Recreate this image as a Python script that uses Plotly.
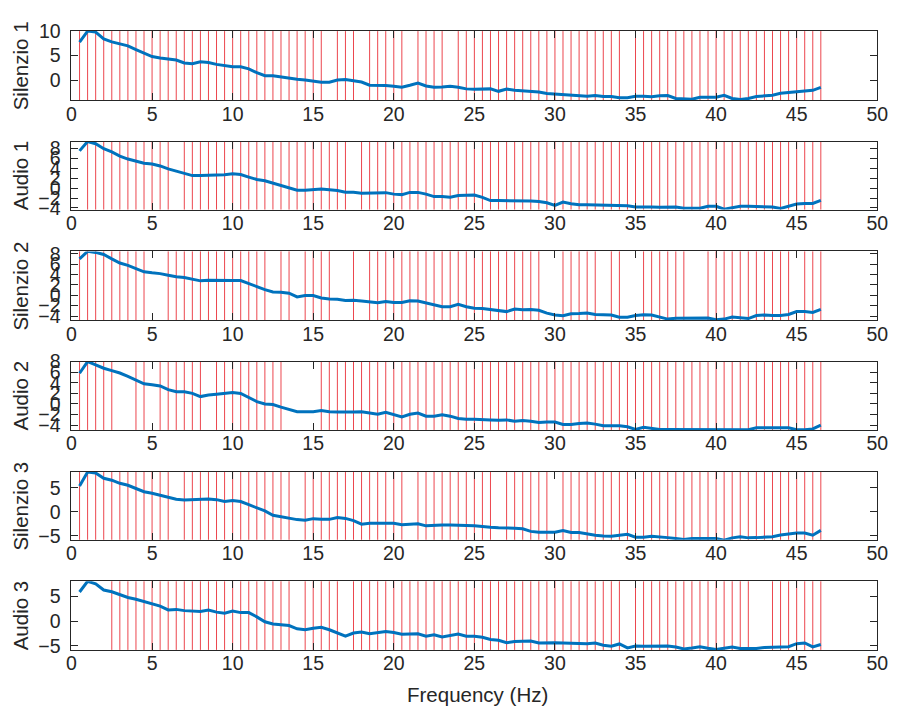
import plotly.graph_objects as go

# ---------------- data ----------------
FREQ = [0.5, 1.0, 1.5, 2.0, 2.5, 3.0, 3.5, 4.0, 4.5, 5.0,
        5.5, 6.0, 6.5, 7.0, 7.5, 8.0, 8.5, 9.0, 9.5, 10.0,
        10.5, 11.0, 11.5, 12.0, 12.5, 13.0, 13.5, 14.0, 14.5, 15.0,
        15.5, 16.0, 16.5, 17.0, 17.5, 18.0, 18.5, 19.0, 19.5, 20.0,
        20.5, 21.0, 21.5, 22.0, 22.5, 23.0, 23.5, 24.0, 24.5, 25.0,
        25.5, 26.0, 26.5, 27.0, 27.5, 28.0, 28.5, 29.0, 29.5, 30.0,
        30.5, 31.0, 31.5, 32.0, 32.5, 33.0, 33.5, 34.0, 34.5, 35.0,
        35.5, 36.0, 36.5, 37.0, 37.5, 38.0, 38.5, 39.0, 39.5, 40.0,
        40.5, 41.0, 41.5, 42.0, 42.5, 43.0, 43.5, 44.0, 44.5, 45.0,
        45.5, 46.0, 46.5]

LABELS = ["Silenzio 1", "Audio 1", "Silenzio 2", "Audio 2", "Silenzio 3", "Audio 3"]

silenzio1 = [7.75, 10.0, 9.8, 8.4, 7.8, 7.4, 7.0, 6.2, 5.5, 4.8,
             4.5, 4.3, 4.1, 3.5, 3.35, 3.75, 3.6, 3.2, 3.0, 2.7,
             2.7, 2.3, 1.5, 0.9, 0.9, 0.65, 0.3, 0.15, 0.0, -0.2,
             -0.45, -0.45, 0.0, 0.1, -0.1, -0.4, -1.05, -1.0, -1.1, -1.25,
             -1.45, -1.05, -0.6, -1.2, -1.45, -1.4, -1.25, -1.45, -1.8, -1.9,
             -1.85, -1.8, -2.3, -1.85, -2.1, -2.2, -2.25, -2.45, -2.75, -2.85,
             -2.95, -3.1, -3.3, -3.3, -3.15, -3.35, -3.35, -3.6, -3.6, -3.3,
             -3.3, -3.4, -3.2, -3.15, -3.75, -3.9, -3.9, -3.5, -3.5, -3.5,
             -3.1, -3.75, -3.95, -3.75, -3.35, -3.2, -3.1, -2.7, -2.55, -2.45,
             -2.35, -2.1, -1.5]

audio1 = [7.55, 9.45, 9.0, 8.0, 7.35, 6.5, 5.9, 5.4, 5.05, 4.9,
          4.5, 3.9, 3.4, 2.95, 2.55, 2.55, 2.55, 2.7, 2.7, 2.9,
          2.75, 2.25, 1.75, 1.5, 1.0, 0.6, 0.05, -0.4, -0.4, -0.3,
          -0.15, -0.3, -0.45, -0.8, -0.8, -1.0, -1.0, -1.0, -0.9, -1.2,
          -1.3, -0.85, -0.85, -1.2, -1.7, -1.7, -1.85, -1.5, -1.5, -1.4,
          -1.85, -2.5, -2.5, -2.5, -2.55, -2.6, -2.6, -2.7, -2.95, -3.5,
          -2.8, -3.15, -3.35, -3.35, -3.4, -3.55, -3.55, -3.5, -3.55, -3.8,
          -3.75, -3.8, -3.85, -3.85, -3.8, -4.05, -4.05, -4.05, -3.65, -3.65,
          -4.25, -3.9, -3.65, -3.65, -3.65, -3.65, -3.8, -4.1, -3.6, -3.2,
          -3.1, -3.1, -2.45]

silenzio2 = [7.05, 8.5, 8.3, 7.9, 7.05, 6.25, 5.8, 5.15, 4.55, 4.35,
             4.2, 3.9, 3.6, 3.45, 3.15, 2.8, 2.9, 2.85, 2.85, 2.85,
             2.85, 2.35, 1.7, 1.1, 0.65, 0.6, 0.4, -0.3, -0.05, -0.05,
             -0.5, -0.7, -0.75, -1.0, -0.95, -1.1, -1.25, -1.45, -1.2, -1.4,
             -1.4, -1.05, -1.1, -1.45, -1.75, -2.2, -2.2, -1.75, -2.2, -2.5,
             -2.55, -2.75, -3.0, -3.15, -2.65, -2.8, -2.75, -2.9, -3.45, -3.8,
             -3.95, -3.55, -3.5, -3.4, -3.7, -3.8, -3.8, -4.25, -4.25, -3.9,
             -3.75, -3.8, -4.15, -4.6, -4.45, -4.45, -4.4, -4.45, -4.4, -4.7,
             -4.6, -4.2, -4.35, -4.5, -3.9, -3.8, -3.9, -3.9, -3.7, -3.15,
             -3.15, -3.3, -2.7]

audio2 = [5.8, 8.0, 7.4, 6.75, 6.3, 5.85, 5.2, 4.45, 3.8, 3.65,
          3.4, 2.7, 2.3, 2.3, 2.0, 1.4, 1.7, 1.85, 2.0, 2.15,
          2.0, 1.25, 0.45, 0.0, -0.1, -0.6, -1.1, -1.45, -1.45, -1.45,
          -1.25, -1.45, -1.5, -1.55, -1.5, -1.45, -1.7, -1.95, -1.55, -2.05,
          -2.45, -1.95, -1.7, -2.3, -2.3, -2.05, -2.3, -2.75, -2.9, -2.9,
          -2.9, -3.0, -3.05, -3.0, -3.25, -3.1, -3.25, -3.5, -3.4, -3.4,
          -3.85, -3.85, -3.7, -3.6, -3.8, -4.1, -4.1, -4.1, -4.3, -4.8,
          -4.4, -4.6, -4.8, -4.8, -4.8, -4.8, -4.85, -4.85, -4.8, -4.8,
          -4.8, -4.85, -4.9, -4.85, -4.5, -4.5, -4.45, -4.5, -4.5, -4.85,
          -4.85, -4.7, -4.0]

silenzio3 = [5.4, 8.3, 8.1, 7.0, 6.6, 5.95, 5.55, 4.85, 4.2, 3.9,
             3.5, 3.05, 2.65, 2.5, 2.55, 2.75, 2.7, 2.55, 2.15, 2.35,
             2.15, 1.5, 0.9, 0.2, -0.7, -1.0, -1.35, -1.6, -1.75, -1.4,
             -1.55, -1.55, -1.15, -1.35, -1.8, -2.55, -2.35, -2.35, -2.3, -2.35,
             -2.65, -2.55, -2.45, -2.9, -2.75, -2.7, -2.7, -2.7, -2.85, -2.9,
             -3.1, -3.2, -3.3, -3.3, -3.4, -3.5, -4.05, -4.25, -4.25, -4.25,
             -3.9, -4.3, -4.3, -4.6, -4.85, -5.0, -5.05, -4.85, -4.65, -5.25,
             -5.25, -5.05, -5.15, -5.35, -5.55, -5.75, -5.55, -5.5, -5.5, -5.55,
             -5.9, -5.4, -5.15, -5.4, -5.35, -5.2, -5.15, -4.8, -4.6, -4.4,
             -4.4, -4.85, -3.85]

audio3 = [5.85, 8.0, 7.5, 6.25, 5.9, 5.25, 4.75, 4.4, 3.95, 3.55,
          3.0, 2.25, 2.35, 2.1, 1.95, 1.95, 2.2, 1.8, 1.6, 2.0,
          1.7, 1.7, 0.85, -0.15, -0.6, -0.8, -0.9, -1.55, -1.75, -1.45,
          -1.25, -1.75, -2.4, -3.05, -2.4, -2.2, -2.55, -2.4, -2.1, -2.3,
          -2.65, -2.6, -2.55, -3.05, -2.75, -3.2, -2.9, -2.6, -3.05, -3.05,
          -3.25, -3.7, -3.85, -4.35, -4.1, -4.0, -4.0, -4.4, -4.35, -4.35,
          -4.4, -4.5, -4.6, -4.55, -4.4, -4.85, -5.05, -4.6, -5.4, -5.0,
          -5.05, -5.05, -5.0, -5.0, -5.2, -5.6, -5.4, -5.15, -5.45, -5.7,
          -5.45, -5.2, -5.5, -5.5, -5.5, -5.3, -5.2, -5.15, -5.15, -4.55,
          -4.4, -5.2, -4.7]

SERIES = [silenzio1, audio1, silenzio2, audio2, silenzio3, audio3]

# frequency bins WITHOUT a red marker line (all other bins have one)
no_marker_silenzio1 = [16.0, 18.0, 21.0, 23.5, 34.5]
no_marker_audio1 = [0.5, 6.5, 17.5]
no_marker_silenzio2 = [5.0, 5.5, 12.5, 14.0, 16.5, 17.0, 18.0, 29.5, 30.0, 33.0,
                       34.5, 35.0, 38.5, 39.0, 45.0]
no_marker_audio2 = [3.0, 3.5, 5.0, 8.5, 13.5, 14.0, 14.5, 15.0]
no_marker_silenzio3 = [6.5, 14.0, 21.0, 26.5, 30.0]
no_marker_audio3 = [0.5, 1.0, 1.5, 2.0, 14.0, 17.0, 34.5, 42.5, 43.0]
NO_MARKER = [no_marker_silenzio1, no_marker_audio1, no_marker_silenzio2,
             no_marker_audio2, no_marker_silenzio3, no_marker_audio3]

Y_TICKS = [[0, 5, 10],
           [-4, -2, 0, 2, 4, 6, 8],
           [-4, -2, 0, 2, 4, 6, 8],
           [-4, -2, 0, 2, 4, 6, 8],
           [-5, 0, 5],
           [-5, 0, 5]]
X_TICKS = [0, 5, 10, 15, 20, 25, 30, 35, 40, 45, 50]

# ---------------- styling / layout ----------------
W, H = 901, 715
Y_RANGES = [[-4.1, 10.0], [-4.33, 9.44], [-4.85, 8.5],
            [-4.9, 8.0], [-5.8, 8.3], [-5.8, 8.0]]
PANEL_PX = [(20.7, 91.7), (134.3, 204.3), (247.3, 318.3),
            (360.7, 431.0), (474.3, 544.0), (586.7, 657.3)]
X_PX = (67.7, 888.0)
AX_COLOR = "#262626"
BLUE = "#0072BD"
RED = "rgb(236,70,78)"
FONT = "Liberation Sans, Arial, Helvetica, sans-serif"
TICK_SIZE = 19.5
LABEL_SIZE = 20.5

fig = go.Figure()
layout = dict(
    width=W, height=H,
    margin=dict(l=0, r=0, t=0, b=0),
    paper_bgcolor="white", plot_bgcolor="white",
    showlegend=False,
    font=dict(family=FONT, color=AX_COLOR, size=TICK_SIZE),
)
shapes = []
annotations = []

for i in range(6):
    n = "" if i == 0 else str(i + 1)
    xa, ya = "x" + n, "y" + n
    fig.add_trace(go.Scatter(
        x=FREQ, y=SERIES[i], mode="lines", xaxis=xa, yaxis=ya,
        line=dict(color=BLUE, width=3), hoverinfo="skip"))
    top, bot = PANEL_PX[i]
    layout["xaxis" + n] = dict(
        domain=[X_PX[0] / W, X_PX[1] / W], anchor=ya, range=[0, 50],
        tickvals=X_TICKS, ticks="inside", ticklen=7, tickcolor=AX_COLOR,
        showline=True, linecolor=AX_COLOR, linewidth=1, mirror="ticks",
        showgrid=False, zeroline=False, ticklabelstandoff=-4,
        tickfont=dict(size=TICK_SIZE, family=FONT, color=AX_COLOR))
    layout["yaxis" + n] = dict(
        domain=[1 - bot / H, 1 - top / H], anchor=xa, range=Y_RANGES[i],
        tickvals=Y_TICKS[i], ticks="inside", ticklen=7, tickcolor=AX_COLOR,
        showline=True, linecolor=AX_COLOR, linewidth=1, mirror="ticks",
        showgrid=False, zeroline=False, ticklabelstandoff=6,
        tickfont=dict(size=TICK_SIZE, family=FONT, color=AX_COLOR))
    for f in FREQ:
        if f in NO_MARKER[i]:
            continue
        shapes.append(dict(type="line", xref=xa, yref=ya + " domain",
                           x0=f, x1=f, y0=0, y1=1, layer="below",
                           line=dict(color=RED, width=1)))
    annotations.append(dict(
        text=LABELS[i], xref="paper", yref="paper",
        x=16 / W, y=1 - (top + bot) / 2 / H, textangle=-90,
        showarrow=False, xanchor="center", yanchor="middle",
        font=dict(size=LABEL_SIZE, family=FONT, color=AX_COLOR)))

annotations.append(dict(
    text="Frequency (Hz)", xref="paper", yref="paper",
    x=481 / W, y=1 - 703 / H, showarrow=False,
    xanchor="center", yanchor="middle",
    font=dict(size=LABEL_SIZE, family=FONT, color=AX_COLOR)))

layout["shapes"] = shapes
layout["annotations"] = annotations
fig.update_layout(**layout)
fig.write_html("out.html")
